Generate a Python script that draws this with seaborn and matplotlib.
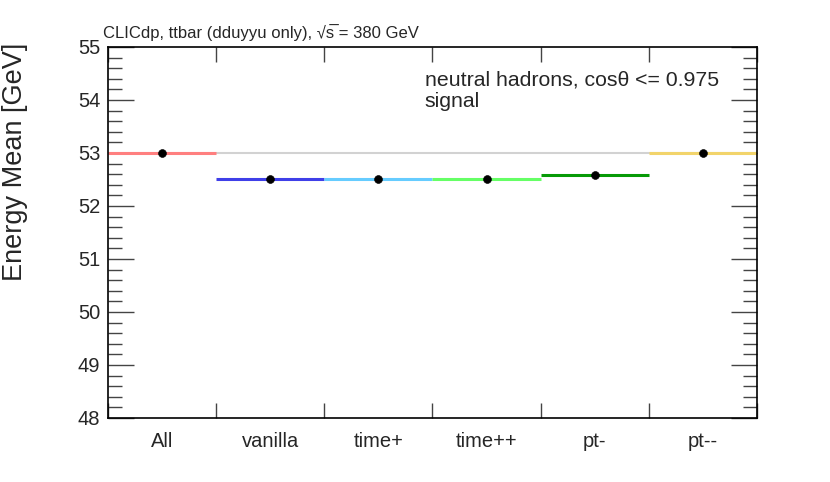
import numpy as np
import pandas as pd
import matplotlib
matplotlib.use("Agg")
import matplotlib.pyplot as plt
import seaborn as sns
from matplotlib.ticker import MultipleLocator

# Data
categories = ["All", "vanilla", "time+", "time++", "pt-", "pt--"]
energy_mean = [53.0, 52.5, 52.5, 52.5, 52.58, 53.0]
bin_colors = ["#ff7f7f", "#3f3fe8", "#66ccff", "#66ff66", "#079a07", "#f2d46b"]
reference_value = 53.0

df = pd.DataFrame({
    "category": categories,
    "x": np.arange(len(categories)) + 0.5,
    "mean": energy_mean,
})

sns.set_theme(style="ticks")
plt.rcParams["font.family"] = ["Liberation Sans", "DejaVu Sans"]

fig = plt.figure(figsize=(8.3, 4.82), dpi=100)
ax = fig.add_axes([0.130, 0.1328, 0.782, 0.7697])

# reference line across all bins
ax.axhline(reference_value, color="#d2d2d2", lw=1.5, zorder=1)

# one horizontal segment per bin
for i, row in df.iterrows():
    ax.hlines(row["mean"], row["x"] - 0.5, row["x"] + 0.5,
              color=bin_colors[i], lw=2.2, zorder=2)

sns.scatterplot(data=df, x="x", y="mean", color="black", s=32,
                edgecolor="black", zorder=3, ax=ax, legend=False)

ax.set_xlim(0, len(categories))
ax.set_ylim(48, 55)
ax.set_xticks(df["x"])
ax.set_xticklabels(categories)
ax.xaxis.set_minor_locator(MultipleLocator(1))
ax.tick_params(axis="x", which="major", length=0, pad=10, labelsize=14.5)
ax.tick_params(axis="x", which="minor", length=11, width=1, top=True,
               bottom=True, direction="in", color="#444444")
ax.yaxis.set_major_locator(MultipleLocator(1))
ax.yaxis.set_minor_locator(MultipleLocator(0.2))
ax.tick_params(axis="y", which="major", length=19, width=1, direction="in",
               left=True, right=True, pad=5.5, labelsize=14.5, color="#444444")
ax.tick_params(axis="y", which="minor", length=10, width=1, direction="in",
               left=True, right=True, color="#444444")
for sp in ax.spines.values():
    sp.set_linewidth(1.2)
    sp.set_color("black")

ax.set_xlabel("")
ax.set_ylabel("Energy Mean [GeV]", fontsize=19.5)
ax.yaxis.set_label_coords(-0.123, 0.69)

fig.text(0.124, 0.922, "CLICdp, ttbar (dduyyu only), \u221as\u0305 = 380 GeV",
         fontsize=12, ha="left", va="baseline")
ax.text(0.488, 0.897, "neutral hadrons, cos\u03b8 <= 0.975",
        transform=ax.transAxes, fontsize=15.3, ha="left", va="baseline")
ax.text(0.488, 0.838, "signal",
        transform=ax.transAxes, fontsize=15.3, ha="left", va="baseline")

plt.savefig("out.png", dpi=100)
